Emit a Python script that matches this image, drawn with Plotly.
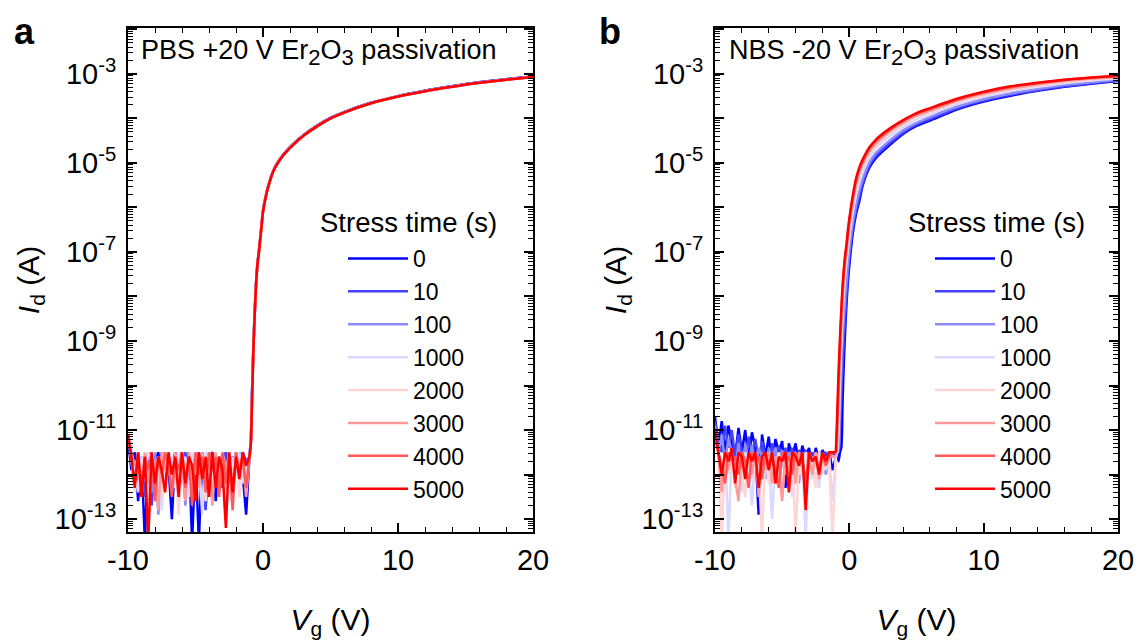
import numpy as np
import plotly.graph_objects as go

# ---------------- data (log10 of Id in A) ----------------
STRESS_TIMES = ["0", "10", "100", "1000", "2000", "3000", "4000", "5000"]
COLORS = ["#0000FF", "#4343FF", "#8C8CFF", "#D9D9FF", "#FFD6D6", "#FF9A9A", "#FF5858", "#FF0000"]

VG_OFF = [-10.0, -9.75, -9.5, -9.25, -9.0, -8.75, -8.5, -8.25, -8.0, -7.75, -7.5, -7.25,
          -7.0, -6.75, -6.5, -6.25, -6.0, -5.75, -5.5, -5.25, -5.0, -4.75, -4.5, -4.25,
          -4.0, -3.75, -3.5, -3.25, -3.0, -2.75, -2.5, -2.25, -2.0, -1.75, -1.5, -1.25]
VG_ON = [-1.0, -0.9, -0.8, -0.7, -0.6, -0.5, -0.4, -0.3, -0.2, -0.1, 0.0, 0.25, 0.5, 0.75,
         1.0, 1.5, 2.0, 3.0, 4.0, 5.0, 6.0, 8.0, 10.0, 12.0, 14.0, 16.0, 18.0, 20.0]

# Panel a: PBS +20 V
PBS_OFF_0 = [-11.2, -11.9, -11.5, -12.6, -11.6, -13.5, -11.5, -12.0, -11.7, -11.5, -12.3, -11.6, -11.8, -13.0, -11.5, -12.1, -11.6, -11.9, -11.5, -13.5, -11.6, -13.5, -11.5, -12.2, -11.7, -11.5, -12.6, -11.6, -11.9, -11.5, -12.2, -11.6, -11.8, -11.5, -12.0, -12.9]
PBS_OFF_10 = [-11.3, -11.5, -12.1, -11.6, -11.8, -12.5, -11.5, -12.7, -11.6, -11.9, -11.5, -12.2, -11.6, -11.8, -11.5, -12.6, -11.7, -11.5, -12.1, -11.6, -12.4, -11.5, -11.9, -12.8, -11.6, -11.5, -12.0, -11.6, -12.3, -11.5, -11.8, -12.5, -11.6, -11.9, -11.5, -11.7]
PBS_OFF_100 = [-11.1, -11.7, -12.3, -11.5, -12.0, -11.6, -11.8, -12.4, -11.5, -12.9, -11.6, -11.9, -11.5, -12.3, -11.6, -11.8, -11.5, -12.7, -11.6, -12.0, -11.5, -12.2, -11.6, -11.8, -11.5, -12.5, -11.6, -12.0, -11.5, -12.4, -11.6, -11.9, -11.5, -12.2, -11.6, -12.4]
PBS_OFF_1000 = [-11.2, -11.5, -11.9, -12.4, -11.6, -12.0, -11.5, -11.8, -12.2, -11.6, -12.8, -11.5, -12.0, -11.6, -12.3, -11.5, -11.8, -11.6, -12.5, -11.5, -12.0, -11.6, -12.9, -11.5, -11.8, -12.2, -11.6, -12.4, -11.5, -11.9, -12.6, -11.6, -12.0, -11.5, -12.2, -11.8]
PBS_OFF_2000 = [-11.0, -11.6, -12.4, -11.5, -11.9, -11.6, -12.7, -11.5, -12.0, -11.6, -12.5, -11.7, -11.5, -12.2, -11.6, -12.9, -11.5, -12.0, -11.6, -12.4, -11.5, -11.9, -11.6, -12.6, -11.5, -12.3, -11.6, -11.8, -11.5, -13.0, -11.6, -12.1, -11.5, -12.5, -11.6, -12.2]
PBS_OFF_3000 = [-11.1, -11.5, -11.8, -11.6, -12.5, -11.5, -12.2, -11.6, -11.8, -12.8, -11.5, -11.9, -11.6, -12.4, -11.5, -12.1, -11.6, -12.6, -11.5, -11.9, -11.6, -12.3, -11.5, -12.0, -11.6, -12.7, -11.5, -12.2, -11.6, -11.9, -11.5, -12.4, -11.6, -12.0, -11.5, -12.5]
PBS_OFF_4000 = [-11.2, -11.6, -12.2, -11.5, -12.4, -11.6, -11.9, -11.5, -12.6, -11.6, -12.0, -11.5, -11.8, -12.5, -11.6, -11.9, -11.5, -12.3, -11.6, -12.7, -11.5, -12.0, -11.6, -12.4, -11.5, -11.9, -11.6, -12.5, -11.5, -12.2, -11.6, -12.8, -11.5, -11.9, -11.6, -12.3]
PBS_OFF_5000 = [-11.1, -11.6, -12.3, -11.5, -12.5, -11.6, -13.5, -11.5, -12.2, -11.6, -11.9, -12.4, -11.5, -12.0, -11.6, -12.5, -11.5, -12.2, -11.6, -11.8, -12.6, -11.5, -12.1, -11.6, -12.5, -11.5, -12.3, -11.6, -11.9, -13.2, -11.5, -12.4, -11.6, -12.1, -11.5, -11.8]

PBS_ON_0 = [-11.6, -11.2, -10.0, -9.0, -8.25, -7.62, -7.22, -6.97, -6.67, -6.37, -6.07, -5.68, -5.4, -5.18, -5.03, -4.81, -4.64, -4.37, -4.16, -3.99, -3.86, -3.65, -3.5, -3.38, -3.28, -3.19, -3.12, -3.06]
PBS_ON_10 = [-11.6, -11.2, -10.05, -9.02, -8.26, -7.63, -7.23, -6.98, -6.68, -6.38, -6.08, -5.69, -5.41, -5.19, -5.04, -4.82, -4.65, -4.38, -4.17, -3.99, -3.86, -3.65, -3.5, -3.38, -3.28, -3.19, -3.12, -3.06]
PBS_ON_100 = [-11.6, -11.25, -10.1, -9.05, -8.28, -7.64, -7.24, -6.99, -6.69, -6.39, -6.09, -5.7, -5.41, -5.19, -5.04, -4.82, -4.65, -4.38, -4.17, -4.0, -3.87, -3.66, -3.5, -3.39, -3.29, -3.2, -3.13, -3.07]
PBS_ON_1000 = [-11.6, -11.25, -10.15, -9.08, -8.29, -7.65, -7.25, -7.0, -6.7, -6.4, -6.1, -5.7, -5.42, -5.2, -5.05, -4.83, -4.66, -4.39, -4.18, -4.0, -3.87, -3.66, -3.51, -3.39, -3.29, -3.2, -3.13, -3.07]
PBS_ON_2000 = [-11.6, -11.3, -10.2, -9.1, -8.3, -7.65, -7.25, -7.0, -6.7, -6.4, -6.1, -5.7, -5.42, -5.2, -5.05, -4.83, -4.66, -4.39, -4.18, -4.0, -3.87, -3.66, -3.51, -3.39, -3.29, -3.2, -3.13, -3.07]
PBS_ON_3000 = [-11.6, -11.3, -10.2, -9.1, -8.3, -7.65, -7.25, -7.0, -6.7, -6.4, -6.1, -5.7, -5.42, -5.2, -5.05, -4.83, -4.66, -4.39, -4.18, -4.0, -3.87, -3.66, -3.51, -3.39, -3.29, -3.2, -3.13, -3.07]
PBS_ON_4000 = [-11.6, -11.3, -10.2, -9.1, -8.3, -7.65, -7.25, -7.0, -6.7, -6.4, -6.1, -5.7, -5.42, -5.2, -5.05, -4.83, -4.66, -4.39, -4.18, -4.0, -3.87, -3.66, -3.51, -3.39, -3.29, -3.2, -3.13, -3.07]
PBS_ON_5000 = [-11.6, -11.3, -10.2, -9.1, -8.3, -7.65, -7.25, -7.0, -6.7, -6.4, -6.1, -5.7, -5.42, -5.2, -5.05, -4.83, -4.66, -4.39, -4.18, -4.0, -3.87, -3.66, -3.51, -3.39, -3.29, -3.2, -3.13, -3.07]

# Panel b: NBS -20 V
NBS_OFF_0 = [-10.7, -11.4, -10.8, -11.5, -10.9, -11.3, -11.6, -10.95, -11.5, -11.0, -11.7, -11.05, -11.4, -12.9, -11.1, -11.6, -11.15, -11.8, -11.2, -11.5, -11.25, -12.3, -11.3, -11.6, -11.3, -11.8, -11.35, -11.6, -11.4, -11.9, -11.4, -11.7, -11.45, -11.6, -11.5, -11.9]
NBS_OFF_10 = [-10.8, -11.2, -11.5, -10.9, -11.4, -11.0, -11.6, -11.1, -11.5, -11.8, -11.15, -11.5, -11.2, -11.7, -11.25, -11.6, -12.0, -11.3, -11.6, -11.35, -11.7, -11.4, -11.6, -11.4, -11.9, -11.45, -11.6, -11.45, -11.7, -11.5, -11.8, -11.5, -11.6, -11.5, -11.7, -11.5]
NBS_OFF_100 = [-10.9, -11.5, -11.1, -11.7, -11.2, -11.5, -11.9, -11.3, -12.3, -11.3, -11.7, -11.35, -11.9, -11.4, -11.6, -12.1, -11.4, -11.7, -11.4, -11.9, -11.45, -12.0, -11.5, -11.6, -11.5, -12.2, -11.5, -11.7, -11.5, -11.9, -11.5, -11.7, -11.5, -12.0, -11.5, -11.6]
NBS_OFF_1000 = [-11.1, -11.6, -12.2, -11.5, -13.4, -11.5, -12.0, -11.6, -12.4, -11.5, -11.8, -12.7, -11.5, -12.1, -11.6, -11.9, -11.5, -13.0, -11.6, -12.2, -11.5, -11.9, -11.6, -12.5, -11.5, -12.0, -11.6, -13.4, -11.5, -12.1, -11.6, -12.3, -11.5, -11.9, -11.6, -12.6]
NBS_OFF_2000 = [-11.2, -11.6, -13.4, -11.5, -12.0, -11.6, -12.3, -11.5, -11.9, -12.5, -11.5, -12.1, -11.6, -11.8, -13.4, -11.5, -12.2, -11.6, -11.9, -11.5, -12.4, -11.6, -12.0, -11.5, -13.4, -11.6, -12.1, -11.5, -11.9, -11.6, -12.3, -11.5, -12.0, -11.6, -11.8, -13.4]
NBS_OFF_3000 = [-11.2, -11.5, -12.4, -11.6, -11.9, -11.5, -12.1, -12.6, -11.5, -11.8, -11.6, -12.0, -11.5, -12.5, -11.6, -11.9, -11.5, -12.2, -11.6, -11.8, -12.6, -11.5, -12.0, -11.6, -12.2, -11.5, -11.8, -12.4, -11.6, -12.0, -11.5, -12.1, -11.6, -11.8, -11.5, -11.6]
NBS_OFF_4000 = [-11.1, -11.5, -11.8, -12.2, -11.5, -11.7, -11.6, -12.0, -11.5, -11.7, -12.3, -11.5, -11.7, -11.6, -12.1, -11.5, -11.8, -11.6, -11.9, -12.3, -11.5, -11.7, -11.6, -12.0, -11.5, -11.8, -11.6, -12.2, -11.5, -11.7, -11.6, -11.9, -11.5, -11.8, -11.6, -11.5]
NBS_OFF_5000 = [-11.0, -11.5, -12.0, -11.5, -11.7, -11.4, -12.2, -11.5, -11.6, -12.1, -11.5, -11.7, -11.5, -12.3, -11.6, -11.5, -11.9, -11.5, -12.2, -11.6, -11.7, -11.5, -12.4, -11.5, -11.6, -11.8, -11.5, -12.8, -11.5, -11.7, -11.6, -12.0, -11.5, -11.7, -11.5, -11.5]

NBS_ON_0 = [-11.6, -11.5, -11.7, -11.5, -11.4, -10.3, -9.4, -8.7, -8.1, -7.65, -7.3, -6.6, -6.15, -5.85, -5.5, -5.1, -4.88, -4.6, -4.35, -4.17, -4.05, -3.8, -3.62, -3.49, -3.38, -3.29, -3.22, -3.16]
NBS_ON_10 = [-11.6, -11.5, -11.5, -11.0, -10.2, -9.5, -8.9, -8.4, -7.9, -7.5, -7.15, -6.5, -6.07, -5.76, -5.45, -5.06, -4.84, -4.56, -4.32, -4.14, -4.02, -3.78, -3.6, -3.47, -3.37, -3.28, -3.21, -3.15]
NBS_ON_100 = [-11.6, -11.5, -11.4, -10.5, -9.6, -8.9, -8.4, -8.0, -7.6, -7.25, -6.95, -6.35, -5.95, -5.62, -5.36, -4.99, -4.77, -4.5, -4.27, -4.1, -3.97, -3.74, -3.57, -3.44, -3.34, -3.25, -3.19, -3.13]
NBS_ON_1000 = [-11.6, -11.5, -11.0, -9.9, -9.1, -8.4, -7.9, -7.5, -7.2, -6.93, -6.68, -6.12, -5.72, -5.42, -5.2, -4.87, -4.66, -4.4, -4.19, -4.02, -3.9, -3.68, -3.51, -3.38, -3.29, -3.21, -3.15, -3.1]
NBS_ON_2000 = [-11.6, -11.4, -10.6, -9.6, -8.85, -8.2, -7.7, -7.32, -7.07, -6.8, -6.55, -6.0, -5.6, -5.3, -5.1, -4.8, -4.6, -4.34, -4.14, -3.98, -3.86, -3.64, -3.48, -3.36, -3.27, -3.19, -3.13, -3.09]
NBS_ON_3000 = [-11.6, -11.2, -10.2, -9.35, -8.65, -8.0, -7.55, -7.2, -6.95, -6.68, -6.42, -5.9, -5.5, -5.22, -5.03, -4.74, -4.56, -4.3, -4.1, -3.94, -3.83, -3.61, -3.45, -3.33, -3.24, -3.16, -3.11, -3.07]
NBS_ON_4000 = [-11.5, -10.9, -9.9, -9.1, -8.45, -7.85, -7.42, -7.1, -6.85, -6.56, -6.3, -5.8, -5.4, -5.14, -4.96, -4.68, -4.5, -4.26, -4.06, -3.9, -3.79, -3.58, -3.42, -3.3, -3.21, -3.14, -3.09, -3.05]
NBS_ON_5000 = [-11.5, -10.6, -9.7, -8.95, -8.3, -7.75, -7.35, -7.05, -6.8, -6.5, -6.25, -5.75, -5.35, -5.1, -4.92, -4.65, -4.47, -4.23, -4.04, -3.88, -3.77, -3.56, -3.4, -3.28, -3.2, -3.13, -3.08, -3.04]

PBS_OFF = [PBS_OFF_0, PBS_OFF_10, PBS_OFF_100, PBS_OFF_1000, PBS_OFF_2000, PBS_OFF_3000, PBS_OFF_4000, PBS_OFF_5000]
PBS_ON = [PBS_ON_0, PBS_ON_10, PBS_ON_100, PBS_ON_1000, PBS_ON_2000, PBS_ON_3000, PBS_ON_4000, PBS_ON_5000]
NBS_OFF = [NBS_OFF_0, NBS_OFF_10, NBS_OFF_100, NBS_OFF_1000, NBS_OFF_2000, NBS_OFF_3000, NBS_OFF_4000, NBS_OFF_5000]
NBS_ON = [NBS_ON_0, NBS_ON_10, NBS_ON_100, NBS_ON_1000, NBS_ON_2000, NBS_ON_3000, NBS_ON_4000, NBS_ON_5000]

X_TICKS = [-10, 0, 10, 20]
X_TICKTEXT = ["-10", "0", "10", "20"]
Y_EXPONENTS = list(range(-13, -1))

# ---------------- figure ----------------
FONT = "Liberation Sans, Arial, sans-serif"
PAGE_MARGIN = 8            # default <body> margin of the written page
W, H = 1145 - PAGE_MARGIN, 643 - PAGE_MARGIN


def fx(px):
    return (px - PAGE_MARGIN) / W


def fy(py):
    return 1 - (py - PAGE_MARGIN) / H


fig = go.Figure()


def add_panel(off_sets, on_sets, xa, ya, legend_name):
    for i, name in enumerate(STRESS_TIMES):
        fig.add_trace(go.Scatter(
            x=VG_OFF + VG_ON[:1], y=np.power(10.0, off_sets[i] + on_sets[i][:1]),
            mode="lines", name=name, legendgroup=legend_name + name, showlegend=False,
            line=dict(color=COLORS[i], width=2.5),
            xaxis=xa, yaxis=ya, legend=legend_name))
        fig.add_trace(go.Scatter(
            x=VG_ON, y=np.power(10.0, on_sets[i]),
            mode="lines", name=name, legendgroup=legend_name + name, showlegend=True,
            line=dict(color=COLORS[i], width=2.5, shape="spline", smoothing=0.7),
            xaxis=xa, yaxis=ya, legend=legend_name))


add_panel(PBS_OFF, PBS_ON, "x", "y", "legend")
add_panel(NBS_OFF, NBS_ON, "x2", "y2", "legend2")

ytickvals = [10.0 ** e for e in Y_EXPONENTS]
yticktext = [("10<sup>%d</sup>" % e) if e % 2 != 0 else "" for e in Y_EXPONENTS]
yminor = [k * 10.0 ** e for e in range(-14, -1) for k in range(2, 10)]


def xaxis_cfg(domain, anchor):
    return dict(domain=domain, anchor=anchor, range=[-10, 20], automargin=False,
                tickmode="array", tickvals=X_TICKS, ticktext=X_TICKTEXT,
                ticks="inside", ticklen=9, tickwidth=1.5, tickcolor="black",
                minor=dict(ticks="inside", dtick=2, tick0=0, ticklen=5, tickwidth=1.2, tickcolor="black"),
                showline=True, linecolor="black", linewidth=2, mirror="allticks",
                showgrid=False, zeroline=False,
                tickfont=dict(family=FONT, size=29, color="black"),
                ticklabelstandoff=1,
                title=dict(text="<i>V</i><sub>g</sub> (V)", font=dict(family=FONT, size=30, color="black"), standoff=34))


def yaxis_cfg(domain, anchor):
    return dict(domain=domain, anchor=anchor, type="log", range=[-13.29, -1.97], automargin=False,
                tickmode="array", tickvals=ytickvals, ticktext=yticktext,
                ticks="inside", ticklen=9, tickwidth=1.5, tickcolor="black",
                minor=dict(ticks="inside", tickmode="array", tickvals=yminor, ticklen=5, tickwidth=1, tickcolor="black"),
                showline=True, linecolor="black", linewidth=2, mirror="allticks",
                showgrid=False, zeroline=False,
                tickfont=dict(family=FONT, size=29, color="black"),
                ticklabelstandoff=4,
                title=dict(text="<i>I</i><sub>d</sub> (A)", font=dict(family=FONT, size=30, color="black"), standoff=6))


ydom = [fy(532), fy(28)]
legend_style = dict(xanchor="left", yanchor="top", bgcolor="rgba(0,0,0,0)",
                    font=dict(family=FONT, size=23, color="black"), itemwidth=60, tracegroupgap=0)
SUB = "<sub><span style='font-size:22px'>%s</span></sub>"
fig.update_layout(
    width=W, height=H,
    margin=dict(l=0, r=0, t=0, b=0),
    paper_bgcolor="white", plot_bgcolor="white",
    font=dict(family=FONT, color="black"),
    showlegend=True,
    xaxis=xaxis_cfg([fx(128), fx(533)], "y"),
    yaxis=yaxis_cfg(ydom, "x"),
    xaxis2=xaxis_cfg([fx(715), fx(1118)], "y2"),
    yaxis2=yaxis_cfg(ydom, "x2"),
    legend=dict(x=fx(343), y=fy(237), **legend_style),
    legend2=dict(x=fx(930), y=fy(237), **legend_style),
    annotations=[
        dict(text="<b>a</b>", x=fx(12), y=fy(9), xref="paper", yref="paper",
             xanchor="left", yanchor="top", showarrow=False,
             font=dict(family=FONT, size=36, color="black")),
        dict(text="<b>b</b>", x=fx(597), y=fy(9), xref="paper", yref="paper",
             xanchor="left", yanchor="top", showarrow=False,
             font=dict(family=FONT, size=36, color="black")),
        dict(text="PBS +20 V Er" + SUB % "2" + "O" + SUB % "3" + " passivation", x=fx(139), y=fy(52),
             xref="paper", yref="paper", xanchor="left", yanchor="middle", showarrow=False,
             font=dict(family=FONT, size=27, color="black")),
        dict(text="NBS -20 V Er" + SUB % "2" + "O" + SUB % "3" + " passivation", x=fx(727), y=fy(52),
             xref="paper", yref="paper", xanchor="left", yanchor="middle", showarrow=False,
             font=dict(family=FONT, size=27, color="black")),
        dict(text="Stress time (s)", x=fx(318), y=fy(222),
             xref="paper", yref="paper", xanchor="left", yanchor="middle", showarrow=False,
             font=dict(family=FONT, size=27.5, color="black")),
        dict(text="Stress time (s)", x=fx(906), y=fy(222),
             xref="paper", yref="paper", xanchor="left", yanchor="middle", showarrow=False,
             font=dict(family=FONT, size=27.5, color="black")),
    ],
)

fig.write_html("out.html")
